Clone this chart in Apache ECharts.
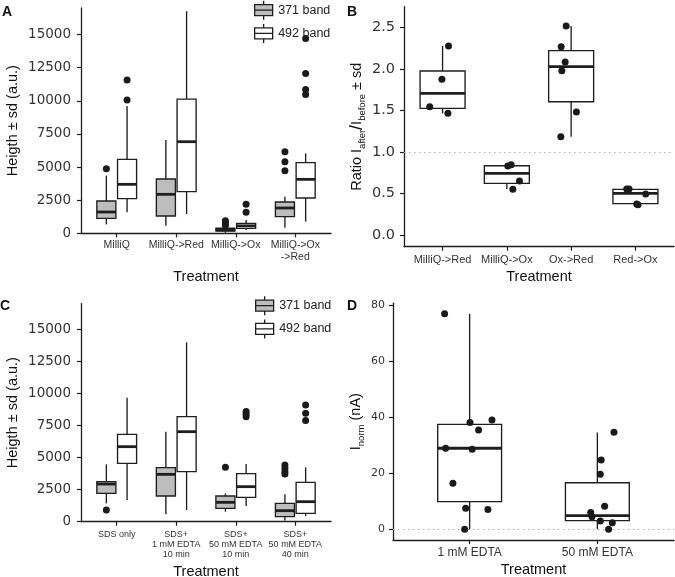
<!DOCTYPE html>
<html><head><meta charset="utf-8">
<script src="https://cdn.jsdelivr.net/npm/echarts@6/dist/echarts.min.js"></script>
<style>html,body{margin:0;padding:0;background:#fff}#c{width:675px;height:577px}</style>
</head><body><div id="c"></div>
<script>
// ---------- DATA ----------
const catsA = ['MilliQ', 'MilliQ->Red', 'MilliQ->Ox', 'MilliQ->Ox\n->Red'];
// [min, q1, median, q3, max]
const boxA371 = [[678, 1131, 1608, 2437, 4347], [578, 1307, 2940, 4096, 7036], [30, 160, 260, 380, 560], [427, 1256, 1910, 2362, 2764]];
const boxA492 = [[1583, 2613, 3694, 5579, 9600], [1458, 3141, 6911, 10127, 16762], [251, 377, 565, 754, 1005], [880, 2664, 4071, 5328, 6031]];
const outA371 = [[4875], [], [950, 820, 700, 600], [6157, 5403, 4724]];
const outA492 = [[11560, 10052], [], [2186, 1583], [14700, 12062, 10856, 10479]];

const catsB = ['MilliQ->Red', 'MilliQ->Ox', 'Ox->Red', 'Red->Ox'];
const boxB = [[1.466, 1.526, 1.707, 1.976, 2.277], [0.554, 0.622, 0.743, 0.835, 0.851], [1.185, 1.606, 2.028, 2.221, 2.518], [0.365, 0.378, 0.502, 0.550, 0.554]];
const ptsBx = [1.093, 0.99, 0.80, 1.083, 2.015, 2.067, 2.196, 2.093, 2.922, 2.845, 2.907, 2.855, 3.082, 2.84, 3.865, 3.90, 4.16, 4.02, 4.04];
const ptsBy = [2.277, 1.876, 1.546, 1.466, 0.831, 0.847, 0.651, 0.550, 2.518, 2.269, 2.084, 1.980, 1.482, 1.185, 0.554, 0.554, 0.494, 0.373, 0.365];

const catsC = ['SDS only', 'SDS+\n1 mM EDTA\n10 min', 'SDS+\n50 mM EDTA\n10 min', 'SDS+\n50 mM EDTA\n40 min'];
const boxC371 = [[1429, 2209, 2937, 3119, 4470], [572, 2001, 3691, 4210, 7017], [780, 1040, 1510, 2004, 2210], [100, 390, 860, 1430, 2130]];
const boxC492 = [[1689, 4548, 5848, 6809, 9668], [910, 3898, 7017, 8187, 13983], [1225, 1900, 2730, 3745, 4500], [440, 650, 1560, 3070, 4240]];
const outC371 = [[910], [], [4240], [4420, 4160, 3900, 3720]];
const outC492 = [[], [], [8580, 8370, 8190], [9100, 8450, 7880]];

const catsD = ['1 mM EDTA', '50 mM EDTA'];
const boxD = [[0, 9.86, 28.9, 37.4, 76.8], [0, 3.09, 4.87, 16.6, 34.5]];
const ptsDx = [0.804, 1.003, 1.175, 1.07, 0.812, 1.02, 0.869, 0.969, 1.143, 0.961, 2.13, 2.03, 2.023, 2.057, 1.948, 1.958, 2.023, 2.117, 2.088];
const ptsDy = [76.8, 38.1, 39.0, 35.4, 28.9, 28.5, 16.4, 7.5, 7.1, 0, 34.6, 24.7, 19.6, 8.2, 6.0, 4.5, 3.0, 2.3, 0];

const ticksAC = [0, 2500, 5000, 7500, 10000, 12500, 15000];
const ticksB = [0, 0.5, 1.0, 1.5, 2.0, 2.5];
const ticksD = [0, 20, 40, 60, 80];

// ---------- STYLE / HELPERS ----------
const INK = '#1e1e1e';
const GREY = '#bdbdbd';
const DODGE = 0.174;

function boxData(boxes, off) {
  return boxes.map((b, i) => [i + 1 + off].concat(b));
}
function outData(outs, off) {
  const r = [];
  outs.forEach((arr, i) => arr.forEach(v => r.push([i + 1 + off, v])));
  return r;
}
function boxRender(halfW) {
  return function (params, api) {
    const x = api.value(0);
    const mn = api.value(1), q1 = api.value(2), md = api.value(3), q3 = api.value(4), mx = api.value(5);
    const tl = api.coord([x - halfW, q3]);
    const br = api.coord([x + halfW, q1]);
    const pMax = api.coord([x, mx]), pMin = api.coord([x, mn]);
    const c3 = api.coord([x, q3]), c1 = api.coord([x, q1]);
    const mL = api.coord([x - halfW, md]), mR = api.coord([x + halfW, md]);
    const ls = { stroke: INK, lineWidth: 1.35 };
    return {
      type: 'group', children: [
        { type: 'line', shape: { x1: pMax[0], y1: pMax[1], x2: c3[0], y2: c3[1] }, style: ls },
        { type: 'line', shape: { x1: pMin[0], y1: pMin[1], x2: c1[0], y2: c1[1] }, style: ls },
        { type: 'rect', shape: { x: tl[0], y: tl[1], width: br[0] - tl[0], height: br[1] - tl[1] }, style: { fill: api.visual('color'), stroke: INK, lineWidth: 1.35 } },
        { type: 'line', shape: { x1: mL[0], y1: mL[1], x2: mR[0], y2: mR[1] }, style: { stroke: INK, lineWidth: 2.8 } }
      ]
    };
  };
}
function boxSeries(name, gi, data, halfW, color) {
  return {
    type: 'custom', name: name, xAxisIndex: gi, yAxisIndex: gi, data: data,
    encode: { x: 0, y: [1, 2, 3, 4, 5] }, itemStyle: { color: color },
    renderItem: boxRender(halfW), silent: true, clip: false
  };
}
function dotSeries(name, gi, data, mark) {
  const s = {
    type: 'scatter', name: name, xAxisIndex: gi, yAxisIndex: gi, data: data,
    symbolSize: 7, itemStyle: { color: '#1a1a1a', opacity: 1 }, silent: true, z: 3
  };
  if (mark != null) {
    s.markLine = {
      silent: true, symbol: 'none', label: { show: false }, z: 1,
      lineStyle: { type: [1.5, 3.5], color: '#b0b0b0', width: 1.2 },
      data: [{ yAxis: mark }]
    };
  }
  return s;
}
function xAx(gi, cats, fontSize, margin, nameGap, lineHeight) {
  const vals = cats.map((c, i) => i + 1);
  return {
    type: 'value', gridIndex: gi, min: 0.4, max: cats.length + 0.6,
    name: 'Treatment', nameLocation: 'middle', nameGap: nameGap,
    nameTextStyle: { fontSize: 14.5, color: '#111', fontFamily: 'Liberation Sans' },
    axisLine: { show: true, onZero: false, lineStyle: { color: INK, width: 1.3 } },
    axisTick: { show: true, length: 4, customValues: vals, lineStyle: { color: INK, width: 1.2 } },
    axisLabel: {
      customValues: vals, formatter: v => cats[Math.round(v) - 1],
      margin: margin, fontSize: fontSize, lineHeight: lineHeight, color: '#333', fontFamily: 'Liberation Sans'
    },
    splitLine: { show: false }
  };
}
function yAx(gi, min, max, ticks, fontSize, margin, name, nameGap, nameStyle) {
  return {
    type: 'value', gridIndex: gi, min: min, max: max,
    name: name, nameLocation: 'middle', nameGap: nameGap,
    nameTextStyle: Object.assign({ fontSize: 14.5, color: '#111', fontFamily: 'Liberation Sans' }, nameStyle || {}),
    axisLine: { show: true, onZero: false, lineStyle: { color: INK, width: 1.3 } },
    axisTick: { show: true, length: 4, customValues: ticks, lineStyle: { color: INK, width: 1.2 } },
    axisLabel: {
      customValues: ticks, margin: margin, fontSize: fontSize, color: '#333', fontFamily: 'DejaVu Sans',
      formatter: v => (max > 10) ? String(Math.round(v)) : Number(v).toFixed(1)
    },
    splitLine: { show: false }
  };
}
const iconPath = 'path://M10,0L10,4M10,15L10,19M1,4L19,4L19,15L1,15ZM1,9.5L19,9.5';
function legendAt(left, top) {
  return {
    orient: 'vertical', left: left, top: top, padding: 0, itemWidth: 19, itemHeight: 19, itemGap: 3,
    selectedMode: false,
    textStyle: { fontSize: 12.5, color: '#222', fontFamily: 'Liberation Sans' },
    data: [
      { name: '371 band', icon: iconPath, itemStyle: { color: GREY, borderColor: INK, borderWidth: 1.3 } },
      { name: '492 band', icon: iconPath, itemStyle: { color: '#ffffff', borderColor: INK, borderWidth: 1.3 } }
    ]
  };
}
function panelTitle(t, left, top) {
  return { text: t, left: left, top: top, padding: 0, textStyle: { fontSize: 14, fontWeight: 'bold', color: '#111', fontFamily: 'Liberation Sans' } };
}

const option = {
  animation: false,
  backgroundColor: '#fff',
  title: [panelTitle('A', 2, 5), panelTitle('B', 347, 5), panelTitle('C', 0, 299), panelTitle('D', 347, 299)],
  legend: [legendAt(254, 0), legendAt(255, 295.5)],
  grid: [
    { left: 81, top: 8, width: 250, height: 225.3, outerBoundsMode: 'none', containLabel: false },
    { left: 404, top: 6.75, width: 270, height: 239.9, outerBoundsMode: 'none', containLabel: false },
    { left: 81, top: 303.6, width: 250, height: 218.1, outerBoundsMode: 'none', containLabel: false },
    { left: 393, top: 303.2, width: 281, height: 236.9, outerBoundsMode: 'none', containLabel: false }
  ],
  xAxis: [
    xAx(0, catsA, 10.5, 6, 36, 12),
    xAx(1, catsB, 11, 6.5, 23, 13),
    xAx(2, catsC, 9, 8, 42.5, 10),
    xAx(3, catsD, 12, 6, 22.5, 14)
  ],
  yAxis: [
    yAx(0, 0, 17000, ticksAC, 13.5, 10, 'Heigth ± sd (a.u.)', 61),
    yAx(1, -0.14, 2.75, ticksB, 14.5, 9, 'Ratio I{sub|after}{sl|/}I{sub|before} ± sd', 37, {
      lineHeight: 20,
      rich: { sub: { fontSize: 9.5, verticalAlign: 'bottom', lineHeight: 11, color: '#111', fontFamily: 'Liberation Sans' },
              sl: { fontSize: 18, color: '#111', fontFamily: 'Liberation Sans' } }
    }),
    yAx(2, 0, 17000, ticksAC, 13.5, 10, 'Heigth ± sd (a.u.)', 61),
    yAx(3, -3.84, 80.6, ticksD, 11, 8, 'I{sub|norm} (nA)', 27, {
      lineHeight: 20,
      rich: { sub: { fontSize: 9.5, verticalAlign: 'bottom', lineHeight: 11, color: '#111', fontFamily: 'Liberation Sans' } }
    })
  ],
  series: [
    boxSeries('371 band', 0, boxData(boxA371, -DODGE), 0.16, GREY),
    boxSeries('492 band', 0, boxData(boxA492, DODGE), 0.16, '#ffffff'),
    dotSeries('outA371', 0, outData(outA371, -DODGE)),
    dotSeries('outA492', 0, outData(outA492, DODGE)),

    boxSeries('ratio', 1, boxData(boxB, 0), 0.35, '#ffffff'),
    dotSeries('ratioPts', 1, ptsBx.map((x, i) => [x, ptsBy[i]]), 1),

    boxSeries('371 band', 2, boxData(boxC371, -DODGE), 0.16, GREY),
    boxSeries('492 band', 2, boxData(boxC492, DODGE), 0.16, '#ffffff'),
    dotSeries('outC371', 2, outData(outC371, -DODGE)),
    dotSeries('outC492', 2, outData(outC492, DODGE)),

    boxSeries('inorm', 3, boxData(boxD, 0), 0.25, '#ffffff'),
    dotSeries('inormPts', 3, ptsDx.map((x, i) => [x, ptsDy[i]]), 0)
  ]
};
const chart = echarts.init(document.getElementById('c'), null, { renderer: 'canvas' });
chart.setOption(option);
</script>
</body></html>
